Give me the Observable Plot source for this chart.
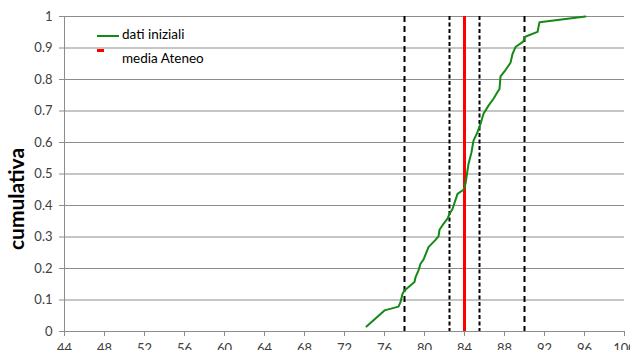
<!DOCTYPE html>
<html>
<head>
<meta charset="utf-8">
<script src="https://cdn.jsdelivr.net/npm/d3@7"></script>
<script src="https://cdn.jsdelivr.net/npm/@observablehq/plot@0.6"></script>
<style>
  html, body { margin: 0; padding: 0; background: #fff; }
  #wrap { position: relative; width: 630px; height: 350px; overflow: hidden; font-family: Lato, "Liberation Sans", sans-serif; }
  .leg { position: absolute; font-size: 13.5px; color: #000; line-height: 1; }
  .sw { position: absolute; }
</style>
</head>
<body>
<div id="wrap"></div>
<script>
// Cumulative distribution ("dati iniziali")
const voto = [74.2,76.0,77.4,77.6,77.8,78.0,79.0,79.1,79.4,79.6,79.9,80.4,81.1,81.4,81.5,81.9,82.3,82.5,82.8,83.3,83.9,84.1,84.4,84.7,84.9,85.3,85.6,85.9,86.4,86.9,87.3,87.5,87.6,88.1,88.6,88.8,89.1,89.9,90.0,91.3,91.5,96.1];
const cumulativa = [0.016,0.067,0.079,0.093,0.12,0.13,0.157,0.172,0.194,0.215,0.228,0.268,0.291,0.302,0.323,0.342,0.358,0.373,0.389,0.437,0.45,0.469,0.532,0.569,0.606,0.633,0.659,0.691,0.717,0.739,0.76,0.77,0.81,0.83,0.853,0.881,0.903,0.921,0.935,0.951,0.982,1.0];
// Reference lines
const dashedLong = [78, 90];
const dashedShort = [82.5, 85.5];
const mediaAteneo = [84];
// Ticks
const xTicks = [44,48,52,56,60,64,68,72,76,80,84,88,92,96,100];
const yTicks = [0,0.1,0.2,0.3,0.4,0.5,0.6,0.7,0.8,0.9,1];
const legendLabels = ["dati iniziali", "media Ateneo"];
const yTitle = "cumulativa";

const data = voto.map((v, i) => ({x: v, y: cumulativa[i]}));

const chart = Plot.plot({
  width: 630,
  height: 350,
  marginLeft: 64,
  marginRight: 6,
  marginTop: 16,
  marginBottom: 19,
  style: {fontFamily: "Lato, 'Liberation Sans', sans-serif", background: "#fff", overflow: "hidden"},
  x: {domain: [44, 100]},
  y: {domain: [0, 1]},
  marks: [
    Plot.ruleY(yTicks, {stroke: "#8c8c8c", strokeWidth: 1}),
    Plot.ruleX([44], {stroke: "#8c8c8c", strokeWidth: 1}),
    Plot.axisX({ticks: xTicks, tickSize: 5, tickPadding: 7, stroke: "#8c8c8c", fill: "#404040", fontSize: 13, label: null}),
    Plot.axisY({ticks: yTicks, tickSize: 5, tickPadding: 7, stroke: "#8c8c8c", fill: "#404040", fontSize: 13, label: null,
      tickFormat: d => String(+d.toFixed(1))}),
    Plot.ruleX(dashedLong, {stroke: "#000", strokeWidth: 2, strokeDasharray: "6,4"}),
    Plot.ruleX(dashedShort, {stroke: "#000", strokeWidth: 2, strokeDasharray: "4,2.5"}),
    Plot.ruleX(mediaAteneo, {stroke: "#ff0000", strokeWidth: 3}),
    Plot.line(data, {x: "x", y: "y", stroke: "#138a13", strokeWidth: 2}),
    Plot.text([yTitle], {text: d => d, frameAnchor: "left", textAnchor: "middle", lineAnchor: "middle",
      rotate: -90, dx: -47, dy: 25, fontSize: 21, fontWeight: "bold", fill: "#000"})
  ]
});

const wrap = document.getElementById("wrap");
wrap.appendChild(chart);

// Legend overlay
const sw1 = document.createElement("div");
sw1.className = "sw";
Object.assign(sw1.style, {left: "97px", top: "35px", width: "22px", height: "2px", background: "#138a13"});
wrap.appendChild(sw1);
const sw2 = document.createElement("div");
sw2.className = "sw";
Object.assign(sw2.style, {left: "97px", top: "49px", width: "7px", height: "3px", background: "#ff0000"});
wrap.appendChild(sw2);
const l1 = document.createElement("div");
l1.className = "leg"; l1.textContent = legendLabels[0];
Object.assign(l1.style, {left: "122px", top: "28px"});
wrap.appendChild(l1);
const l2 = document.createElement("div");
l2.className = "leg"; l2.textContent = legendLabels[1];
Object.assign(l2.style, {left: "122px", top: "52px"});
wrap.appendChild(l2);
</script>
</body>
</html>
